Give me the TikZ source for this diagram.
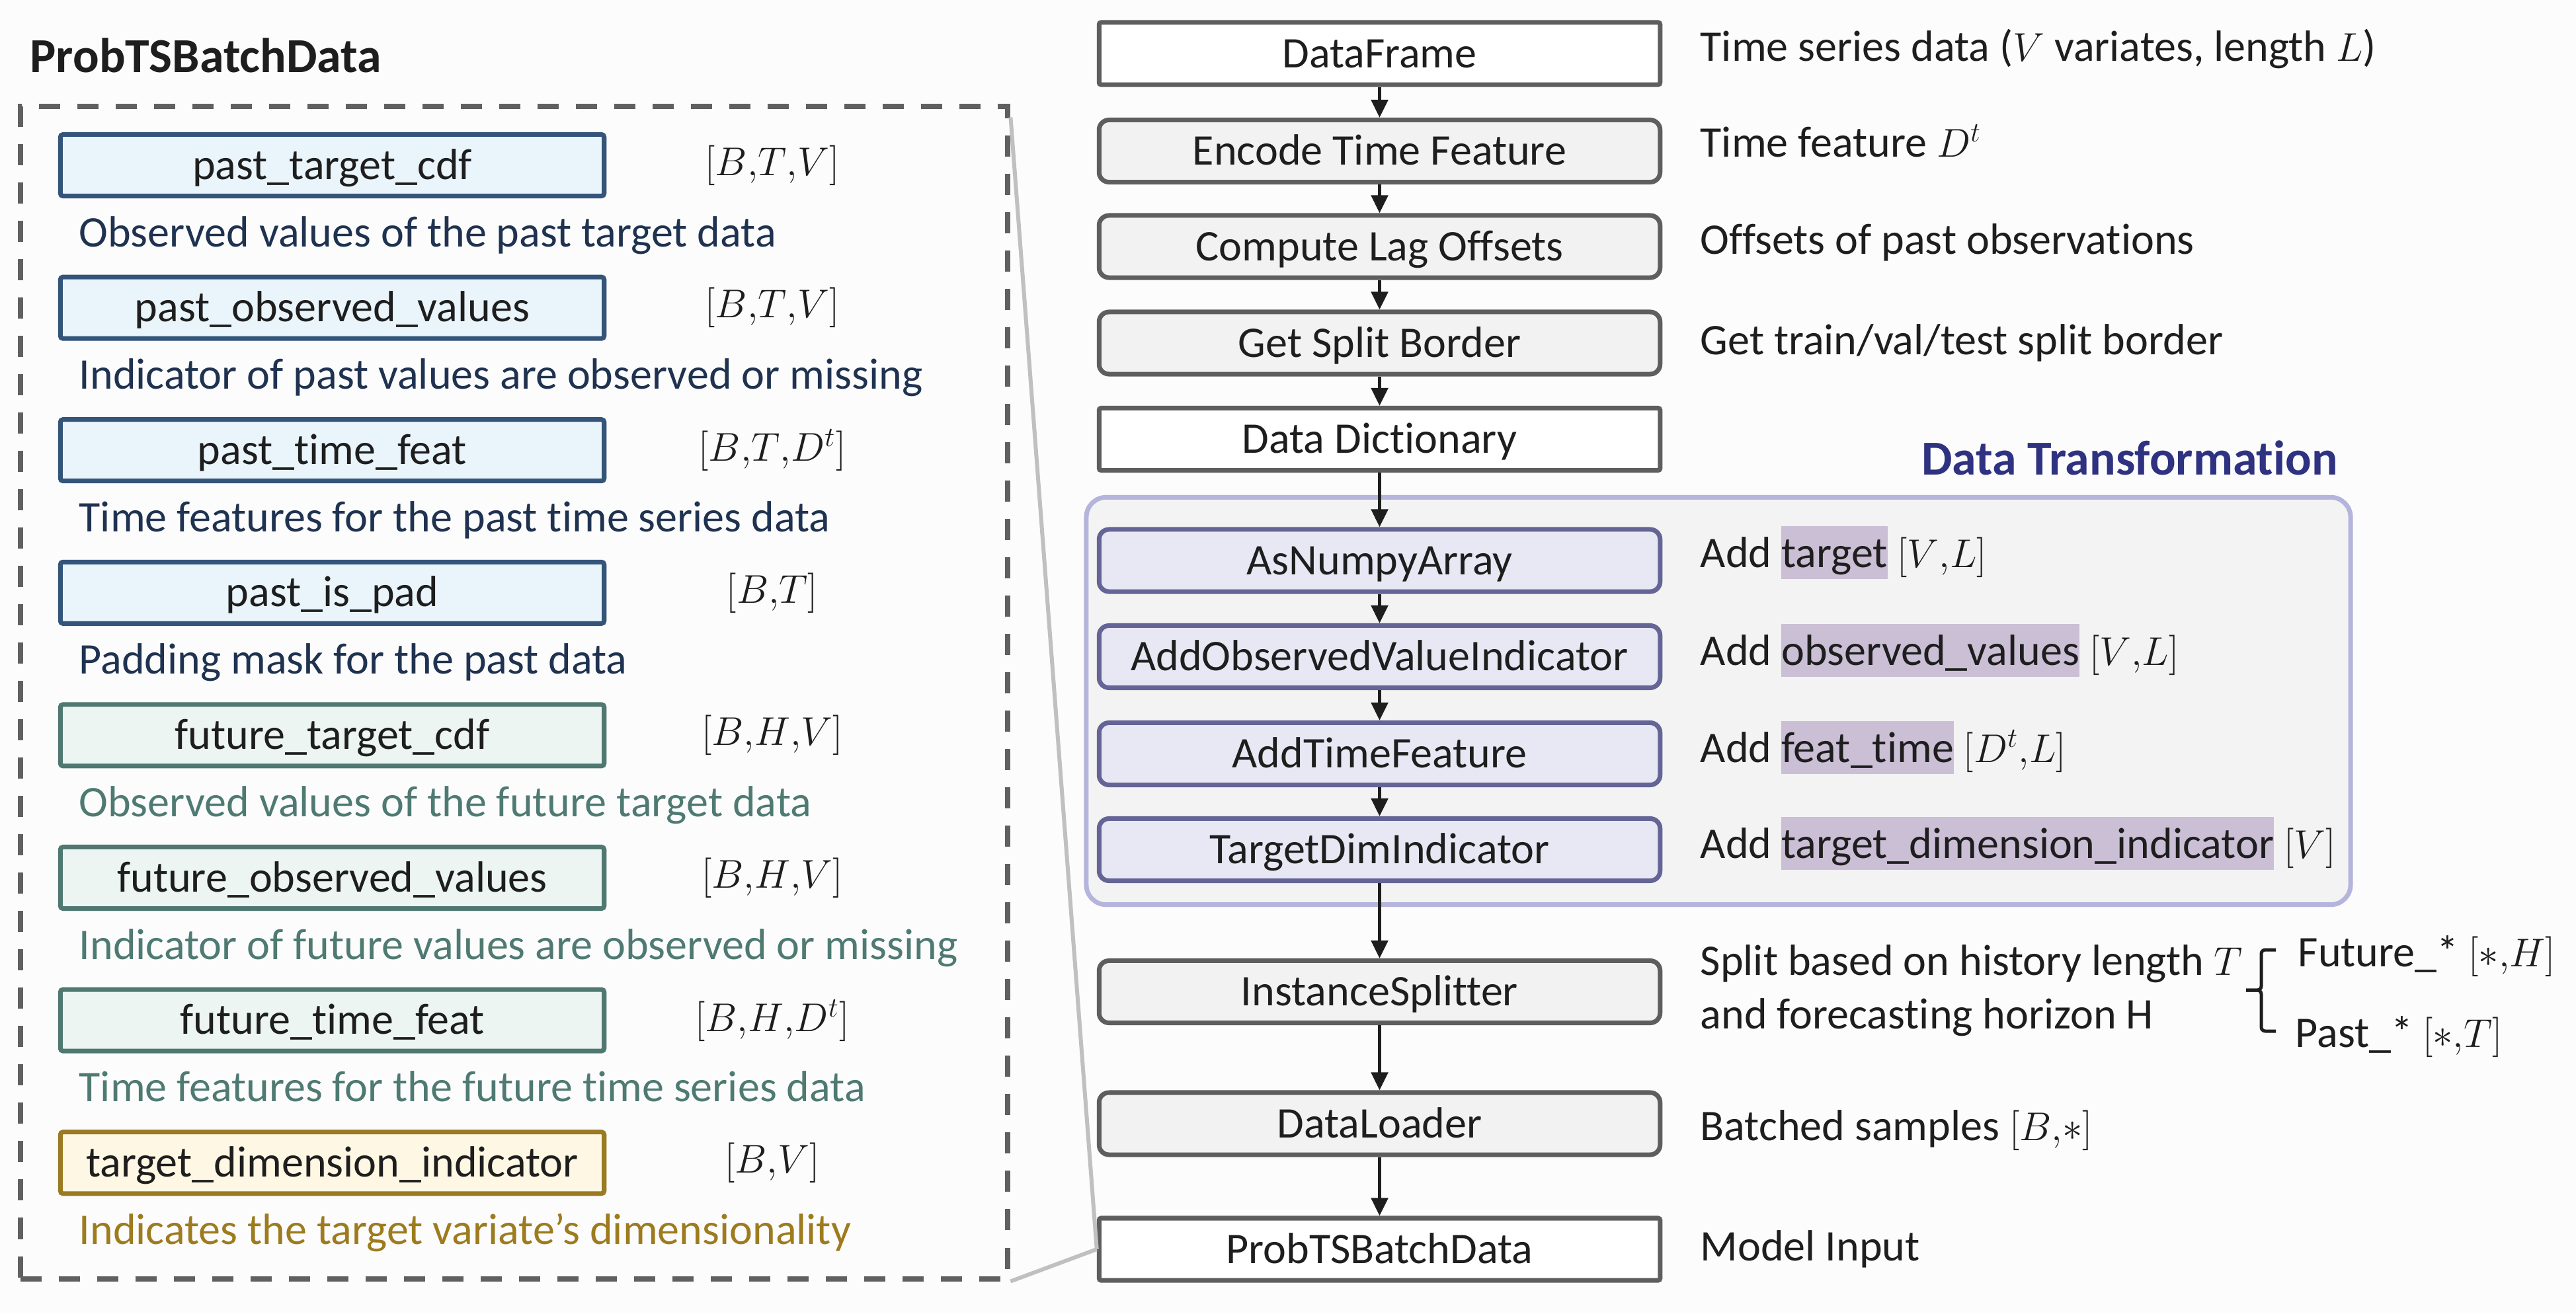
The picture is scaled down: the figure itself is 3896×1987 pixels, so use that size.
\documentclass[tikz,border=0pt]{standalone}
\usepackage{fontspec}
\setmainfont{Carlito}[Ligatures=NoCommon]
\usetikzlibrary{arrows.meta}
\definecolor{bgc}{HTML}{FCFCFC}
\definecolor{txt}{HTML}{1E1E1E}
\definecolor{mainborder}{HTML}{5E5E5E}
\definecolor{mainfill}{HTML}{F2F2F2}
\definecolor{tfborder}{HTML}{646496}
\definecolor{tffill}{HTML}{E8E8F5}
\definecolor{contborder}{HTML}{B4B4DC}
\definecolor{contfill}{HTML}{F3F3F3}
\definecolor{hlc}{HTML}{CBBFD6}
\definecolor{tftitle}{HTML}{2E3280}
\definecolor{pastborder}{HTML}{34547A}
\definecolor{pastfill}{HTML}{EAF4FB}
\definecolor{pasttxt}{HTML}{1F3250}
\definecolor{futborder}{HTML}{4F7870}
\definecolor{futfill}{HTML}{ECF5F2}
\definecolor{futtxt}{HTML}{4E7A72}
\definecolor{tdborder}{HTML}{9A7A22}
\definecolor{tdfill}{HTML}{FDF7E3}
\definecolor{tdtxt}{HTML}{9D7B1E}
\definecolor{dashc}{HTML}{606060}
\definecolor{zoomc}{HTML}{C0C0C0}
\newcommand{\basefont}{\fontsize{18.8}{22}\selectfont}
\newcommand{\hlbox}[1]{{\setlength{\fboxsep}{0pt}\colorbox{hlc}{\rule[-0.18cm]{0pt}{0.80cm}#1}}}
\newcommand{\cm}{{,}}
\begin{document}
\begin{tikzpicture}[x=0.01cm, y=-0.01cm, font=\basefont, text=txt,
  nbox/.style={line width=0.07cm, inner sep=0pt, text height=0.42cm, text depth=0cm},
  mainbox/.style={nbox, draw=mainborder, fill=mainfill, rounded corners=0.15cm, minimum width=8.48cm, minimum height=0.94cm},
  plainbox/.style={mainbox, fill=white, rounded corners=0.03cm},
  tfbox/.style={mainbox, draw=tfborder, fill=tffill},
  leftbox/.style={nbox, rounded corners=0.04cm, minimum width=8.22cm, minimum height=0.93cm},
  pastbox/.style={leftbox, draw=pastborder, fill=pastfill},
  futbox/.style={leftbox, draw=futborder, fill=futfill},
  tdbox/.style={leftbox, draw=tdborder, fill=tdfill},
  flow/.style={draw=txt, line width=0.05cm, -{Triangle[width=0.25cm,length=0.27cm]}},
  desc/.style={anchor=base west, inner sep=0pt},
  dimlabel/.style={inner sep=0pt},
  zoomline/.style={draw=zoomc, line width=0.06cm}]
\fill[bgc] (0,0) rectangle (3896,1987);
\useasboundingbox (0,0) rectangle (3896,1987);

% ---------- left panel ----------
\node[anchor=base west, inner sep=0pt, font=\fontsize{21}{25}\selectfont\bfseries] (title) at (45,109) {ProbTSBatchData};
\node[draw=dashc, line width=0.08cm, dash pattern=on 0.32cm off 0.26cm, minimum width=14.93cm, minimum height=17.72cm, inner sep=0pt] (panel) at (777.5,1048) {};

\node[pastbox] (b1) at (502.5,250) {past\_target\_cdf};
\node[dimlabel] (s1) at (1168,250) {$[B\cm T\cm V]$};
\node[desc, text=pasttxt] (d1) at (119,373) {Observed values of the past target data};

\node[pastbox] (b2) at (502.5,465.6) {past\_observed\_values};
\node[dimlabel] (s2) at (1168,465.6) {$[B\cm T\cm V]$};
\node[desc, text=pasttxt] (d2) at (119,588.6) {Indicator of past values are observed or missing};

\node[pastbox] (b3) at (502.5,681.2) {past\_time\_feat};
\node[dimlabel] (s3) at (1168,681.2) {$[B\cm T\cm D^t]$};
\node[desc, text=pasttxt] (d3) at (119,804.2) {Time features for the past time series data};

\node[pastbox] (b4) at (502.5,896.8) {past\_is\_pad};
\node[dimlabel] (s4) at (1168,896.8) {$[B\cm T]$};
\node[desc, text=pasttxt] (d4) at (119,1019.8) {Padding mask for the past data};

\node[futbox] (b5) at (502.5,1112.4) {future\_target\_cdf};
\node[dimlabel] (s5) at (1168,1112.4) {$[B\cm H\cm V]$};
\node[desc, text=futtxt] (d5) at (119,1235.4) {Observed values of the future target data};

\node[futbox] (b6) at (502.5,1328) {future\_observed\_values};
\node[dimlabel] (s6) at (1168,1328) {$[B\cm H\cm V]$};
\node[desc, text=futtxt] (d6) at (119,1451) {Indicator of future values are observed or missing};

\node[futbox] (b7) at (502.5,1543.6) {future\_time\_feat};
\node[dimlabel] (s7) at (1168,1543.6) {$[B\cm H\cm D^t]$};
\node[desc, text=futtxt] (d7) at (119,1666.6) {Time features for the future time series data};

\node[tdbox] (b8) at (502.5,1759.2) {target\_dimension\_indicator};
\node[dimlabel] (s8) at (1168,1759.2) {$[B\cm V]$};
\node[desc, text=tdtxt] (d8) at (119,1882.2) {Indicates the target variate’s dimensionality};

% ---------- main column ----------
\node[draw=contborder, fill=contfill, line width=0.07cm, rounded corners=0.3cm, minimum width=19.11cm, minimum height=6.16cm, inner sep=0pt] (cont) at (2599,1060.5) {};
\node[anchor=base, inner sep=0pt, text=tftitle, font=\fontsize{21}{25}\selectfont\bfseries] (conttitle) at (3221,718) {Data Transformation};

\node[plainbox] (df) at (2086.5,81) {DataFrame};
\node[mainbox] (etf) at (2086.5,228.5) {Encode Time Feature};
\node[mainbox] (clo) at (2086.5,373) {Compute Lag Offsets};
\node[mainbox] (gsb) at (2086.5,519) {Get Split Border};
\node[plainbox] (dd) at (2086.5,664.5) {Data Dictionary};
\node[tfbox] (anp) at (2086.5,848) {AsNumpyArray};
\node[tfbox] (aovi) at (2086.5,993.5) {AddObservedValueIndicator};
\node[tfbox] (atf) at (2086.5,1140.5) {AddTimeFeature};
\node[tfbox] (tdi) at (2086.5,1285.5) {TargetDimIndicator};
\node[mainbox] (is) at (2086.5,1500.5) {InstanceSplitter};
\node[mainbox] (dl) at (2086.5,1700) {DataLoader};
\node[plainbox] (pbd) at (2086.5,1890) {ProbTSBatchData};

\draw[flow] (df) -- (etf);
\draw[flow] (etf) -- (clo);
\draw[flow] (clo) -- (gsb);
\draw[flow] (gsb) -- (dd);
\draw[flow] (dd) -- (anp);
\draw[flow] (anp) -- (aovi);
\draw[flow] (aovi) -- (atf);
\draw[flow] (atf) -- (tdi);
\draw[flow] (tdi) -- (is);
\draw[flow] (is) -- (dl);
\draw[flow] (dl) -- (pbd);

\draw[zoomline] ([yshift=-0.2cm]panel.north east) -- (pbd.west);
\draw[zoomline] (panel.south east) -- (pbd.west);

% ---------- descriptions ----------
\node[desc] (e1) at (2571,92) {Time series data ($V$ variates, length $L$)};
\node[desc] (e2) at (2571,237) {Time feature $D^t$};
\node[desc] (e3) at (2571,384) {Offsets of past observations};
\node[desc] (e4) at (2571,536) {Get train/val/test split border};
\node[desc] (e5) at (2571,858) {Add \hlbox{target} $[V\cm L]$};
\node[desc] (e6) at (2571,1006) {Add \hlbox{observed\_values} $[V\cm L]$};
\node[desc] (e7) at (2571,1153) {Add \hlbox{feat\_time} $[D^t\cm L]$};
\node[desc] (e8) at (2571,1298) {Add \hlbox{target\_dimension\_indicator} $[V]$};
\node[desc] (e9) at (2571,1475) {Split based on history length $T$};
\node[desc] (e10) at (2571,1556) {and forecasting horizon $\mathrm{H}$};
\node[desc] (e11) at (3475,1462) {Future\_* $[\ast\cm H]$};
\node[desc] (e12) at (3471,1584) {Past\_* $[\ast\cm T]$};
\node[desc] (e13) at (2571,1725) {Batched samples $[B\cm\ast]$};
\node[desc] (e14) at (2571,1907) {Model Input};

\draw[txt, line width=0.05cm, rounded corners=0.06cm] (3442,1437) -- (3420,1437) -- (3420,1498) -- (3397,1498);
\draw[txt, line width=0.05cm, rounded corners=0.06cm] (3397,1498) -- (3420,1498) -- (3420,1560) -- (3442,1560);
\end{tikzpicture}
\end{document}
